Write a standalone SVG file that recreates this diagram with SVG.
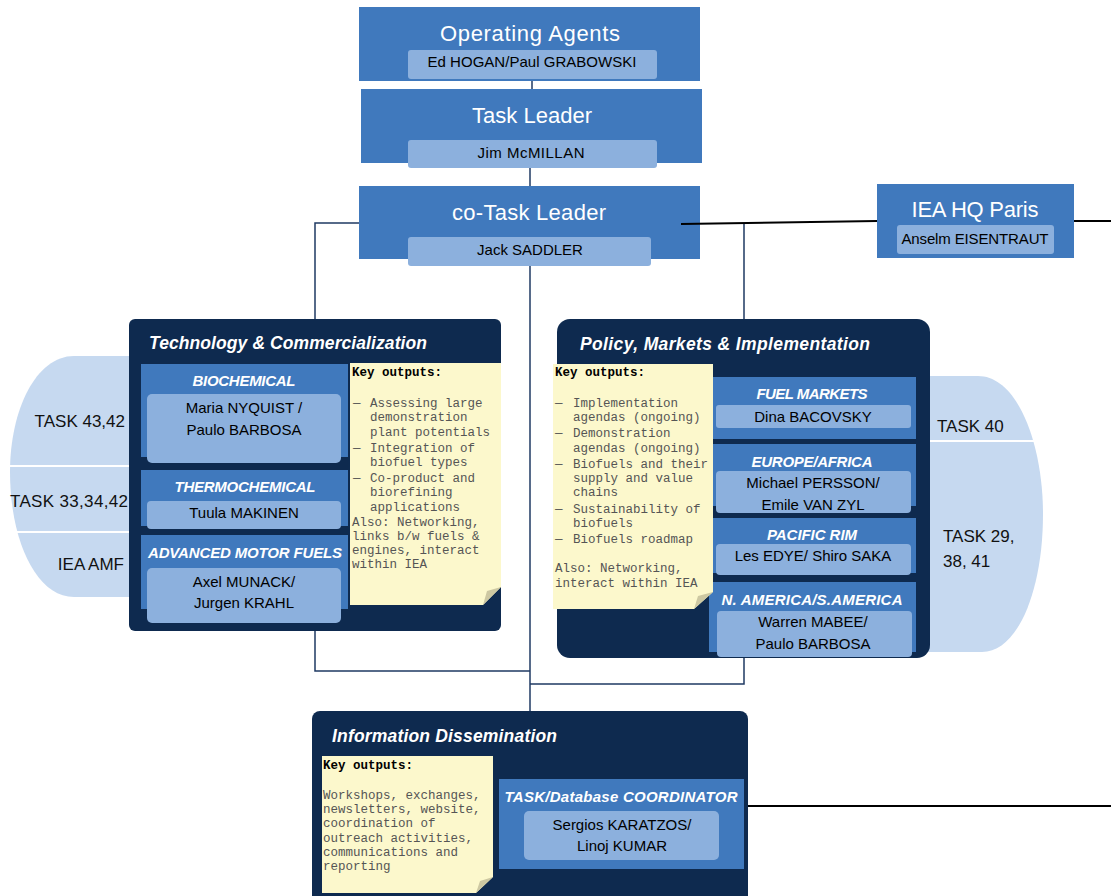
<svg xmlns="http://www.w3.org/2000/svg" width="1111" height="896" viewBox="0 0 1111 896">
<style>
.dark{fill:#0e2a4f}
.mid{fill:#4079bd}
.light{fill:#8cb0dd}
.task{fill:#c6d9f0}
.note{fill:#fcf8cc}
.fold{fill:#cdc8a2}
.sep{stroke:#fff;stroke-width:2;fill:none}
.tt{font-family:"Liberation Sans",Arial,sans-serif;fill:#fff;font-size:22px;text-anchor:middle}
.nm{font-family:"Liberation Sans",Arial,sans-serif;font-size:15px;fill:#000;text-anchor:middle}
.hd{font-family:"Liberation Sans",Arial,sans-serif;font-weight:bold;font-style:italic;fill:#fff;font-size:15px;text-anchor:middle}
.gp{font-family:"Liberation Sans",Arial,sans-serif;font-weight:bold;font-style:italic;fill:#fff;font-size:17.5px}
.ko{font-family:"Liberation Mono","Courier New",monospace;font-size:12.5px;fill:#555}
.kh{font-family:"Liberation Mono","Courier New",monospace;font-size:12.5px;fill:#000;font-weight:bold}
.tk{font-family:"Liberation Sans",Arial,sans-serif;font-size:17px;fill:#111}
.conn{stroke:#1f3a63;stroke-width:1.5;fill:none}
.blk{stroke:#000;stroke-width:2;fill:none}
</style>
<rect width="1111" height="896" fill="#fff"/>

<g id="task-shapes">
  <path class="task" d="M140,356 H74 C36,356 10,410 10,472 C10,540 36,597 74,597 H140 Z"/>
  <path class="sep" d="M10,466 H135 M10,532 H135"/>
  <path class="task" d="M920,376 H978 C1018,376 1043,445 1043,514 C1043,590 1018,652 982,652 H920 Z"/>
  <path class="sep" d="M925,441 H1036"/>
</g>

<g id="operating-agents">
  <rect class="mid" x="359" y="7" width="341" height="74"/>
  <rect class="light" x="408" y="50" width="249" height="29" rx="3"/>
  <text class="tt" x="530" y="41" font-size="23" textLength="180">Operating Agents</text>
  <text class="nm" x="532" y="67" font-size="14.5" textLength="209">Ed HOGAN/Paul GRABOWSKI</text>
</g>

<g id="task-leader">
  <rect class="mid" x="361" y="89" width="341" height="74"/>
  <rect class="light" x="408" y="140" width="249" height="28" rx="3"/>
  <text class="tt" x="532" y="123" textLength="120">Task Leader</text>
  <text class="nm" x="531" y="158" textLength="107">Jim McMILLAN</text>
</g>

<g id="co-task-leader">
  <rect class="mid" x="359" y="186" width="341" height="73"/>
  <rect class="light" x="408" y="237" width="243" height="29" rx="3"/>
  <text class="tt" x="529" y="220" textLength="154">co-Task Leader</text>
  <text class="nm" x="530" y="255">Jack SADDLER</text>
</g>

<g id="iea-hq">
  <rect class="mid" x="877" y="184" width="197" height="74"/>
  <rect class="light" x="897" y="225" width="157" height="29" rx="3"/>
  <text class="tt" x="975" y="217" font-size="21" textLength="127">IEA HQ Paris</text>
  <text class="nm" x="975" y="244" font-size="14.5" textLength="147">Anselm EISENTRAUT</text>
</g>

<g id="connectors">
  <line class="conn" x1="532" y1="81" x2="532" y2="89"/>
  <line class="conn" x1="530" y1="168" x2="530" y2="186"/>
  <path class="conn" d="M359,223 H315 V671 H530"/>
  <path class="conn" d="M530,266 V711"/>
  <path class="conn" d="M744,224 V684 H530"/>
  <line class="blk" x1="681" y1="224" x2="877" y2="221"/>
  <line class="blk" x1="1074" y1="221" x2="1111" y2="221"/>
  <line class="blk" x1="748" y1="806" x2="1111" y2="806"/>
</g>

<g id="task-labels">
  <text class="tk" x="125" y="427" text-anchor="end">TASK 43,42</text>
  <text class="tk" x="128" y="507" text-anchor="end" textLength="118">TASK 33,34,42</text>
  <text class="tk" x="124" y="570" text-anchor="end">IEA AMF</text>
  <text class="tk" x="937" y="432">TASK 40</text>
  <text class="tk" x="943" y="542">TASK 29,</text>
  <text class="tk" x="943" y="567">38, 41</text>
</g>

<g id="technology">
  <rect class="dark" x="129" y="319" width="372" height="312" rx="6"/>
  <text class="gp" x="149" y="349" textLength="278">Technology &amp; Commercialization</text>
  <rect class="mid" x="141" y="364" width="207" height="93"/>
  <rect class="light" x="147" y="394" width="194" height="69" rx="5"/>
  <text class="hd" x="244" y="386" textLength="103">BIOCHEMICAL</text>
  <text class="nm" x="244" y="413">Maria NYQUIST /</text>
  <text class="nm" x="244" y="435">Paulo BARBOSA</text>
  <rect class="mid" x="141" y="470" width="207" height="56"/>
  <rect class="light" x="147" y="501" width="194" height="28" rx="4"/>
  <text class="hd" x="245" y="492" textLength="141">THERMOCHEMICAL</text>
  <text class="nm" x="244" y="518">Tuula MAKINEN</text>
  <rect class="mid" x="141" y="535" width="207" height="74"/>
  <rect class="light" x="147" y="568" width="194" height="55" rx="5"/>
  <text class="hd" x="245" y="558" textLength="194">ADVANCED MOTOR FUELS</text>
  <text class="nm" x="244" y="587">Axel MUNACK/</text>
  <text class="nm" x="244" y="608">Jurgen KRAHL</text>
  <path class="note" d="M350,363 H501 V587 L483,605 H350 Z"/>
  <path class="fold" d="M483,605 L487,591 L501,587 Z"/>
  <text class="kh" x="352" y="376">Key outputs:</text>
  <text class="ko" x="353" y="407">—</text><text class="ko" x="370" y="407">Assessing large</text>
  <text class="ko" x="370" y="421">demonstration</text>
  <text class="ko" x="370" y="436">plant potentials</text>
  <text class="ko" x="353" y="452">—</text><text class="ko" x="370" y="452">Integration of</text>
  <text class="ko" x="370" y="466">biofuel types</text>
  <text class="ko" x="353" y="482">—</text><text class="ko" x="370" y="482">Co-product and</text>
  <text class="ko" x="370" y="496">biorefining</text>
  <text class="ko" x="370" y="511">applications</text>
  <text class="ko" x="352" y="526">Also: Networking,</text>
  <text class="ko" x="352" y="540">links b/w fuels &amp;</text>
  <text class="ko" x="352" y="554">engines, interact</text>
  <text class="ko" x="352" y="568">within IEA</text>
</g>

<g id="policy">
  <rect class="dark" x="557" y="319" width="373" height="339" rx="13"/>
  <text class="gp" x="580" y="350" textLength="290">Policy, Markets &amp; Implementation</text>
  <rect class="mid" x="713" y="377" width="203" height="62"/>
  <rect class="light" x="716" y="405" width="195" height="23" rx="3"/>
  <text class="hd" x="812" y="399" textLength="111">FUEL MARKETS</text>
  <text class="nm" x="813" y="422">Dina BACOVSKY</text>
  <rect class="mid" x="713" y="444" width="203" height="62"/>
  <rect class="light" x="716" y="471" width="195" height="42" rx="4"/>
  <text class="hd" x="812" y="467" textLength="121">EUROPE/AFRICA</text>
  <text class="nm" x="813" y="488">Michael PERSSON/</text>
  <text class="nm" x="813" y="510">Emile VAN ZYL</text>
  <rect class="mid" x="713" y="518" width="203" height="55"/>
  <rect class="light" x="716" y="544" width="195" height="31" rx="4"/>
  <text class="hd" x="812" y="540" textLength="90">PACIFIC RIM</text>
  <text class="nm" x="813" y="561">Les EDYE/ Shiro SAKA</text>
  <rect class="mid" x="709" y="582" width="207" height="70"/>
  <rect class="light" x="717" y="611" width="195" height="46" rx="4"/>
  <text class="hd" x="812" y="605" textLength="181">N. AMERICA/S.AMERICA</text>
  <text class="nm" x="813" y="627">Warren MABEE/</text>
  <text class="nm" x="813" y="649">Paulo BARBOSA</text>
  <path class="note" d="M553,364 H713 V592 L694,609 H553 Z"/>
  <path class="fold" d="M694,609 L698,596 L713,592 Z"/>
  <text class="kh" x="555" y="376">Key outputs:</text>
  <text class="ko" x="555" y="407">—</text><text class="ko" x="573" y="407">Implementation</text>
  <text class="ko" x="573" y="421">agendas (ongoing)</text>
  <text class="ko" x="555" y="437">—</text><text class="ko" x="573" y="437">Demonstration</text>
  <text class="ko" x="573" y="452">agendas (ongoing)</text>
  <text class="ko" x="555" y="468">—</text><text class="ko" x="573" y="468">Biofuels and their</text>
  <text class="ko" x="573" y="482">supply and value</text>
  <text class="ko" x="573" y="496">chains</text>
  <text class="ko" x="555" y="513">—</text><text class="ko" x="573" y="513">Sustainability of</text>
  <text class="ko" x="573" y="527">biofuels</text>
  <text class="ko" x="555" y="543">—</text><text class="ko" x="573" y="543">Biofuels roadmap</text>
  <text class="ko" x="555" y="572">Also: Networking,</text>
  <text class="ko" x="555" y="587">interact within IEA</text>
</g>

<g id="information">
  <rect class="dark" x="312" y="711" width="436" height="200" rx="8"/>
  <text class="gp" x="332" y="742" textLength="225">Information Dissemination</text>
  <rect class="mid" x="499" y="779" width="245" height="90"/>
  <rect class="light" x="524" y="811" width="195" height="49" rx="5"/>
  <text class="hd" x="621" y="802" textLength="233">TASK/Database COORDINATOR</text>
  <text class="nm" x="622" y="830">Sergios KARATZOS/</text>
  <text class="nm" x="622" y="851">Linoj KUMAR</text>
  <path class="note" d="M322,756 H493 V877 L476,893 H322 Z"/>
  <path class="fold" d="M476,893 L480,881 L493,877 Z"/>
  <text class="kh" x="323" y="769">Key outputs:</text>
  <text class="ko" x="323" y="799">Workshops, exchanges,</text>
  <text class="ko" x="323" y="813">newsletters, website,</text>
  <text class="ko" x="323" y="827">coordination of</text>
  <text class="ko" x="323" y="842">outreach activities,</text>
  <text class="ko" x="323" y="856">communications and</text>
  <text class="ko" x="323" y="870">reporting</text>
</g>
</svg>
